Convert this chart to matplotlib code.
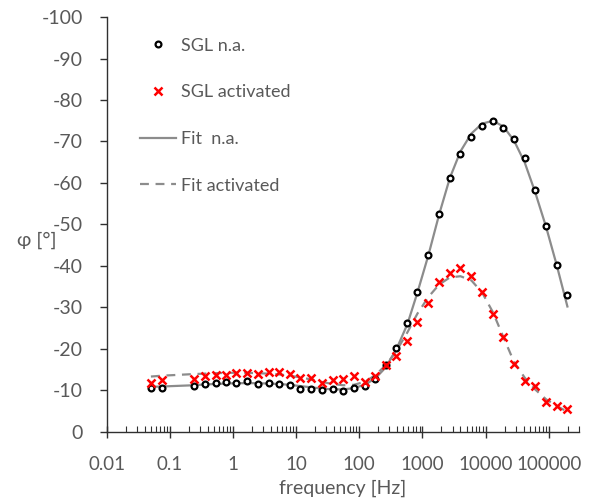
import matplotlib
matplotlib.use("Agg")
import matplotlib.pyplot as plt
from matplotlib.ticker import LogLocator, FuncFormatter, MultipleLocator

plt.rcParams['font.family'] = ['Lato', 'DejaVu Sans']
plt.rcParams['axes.unicode_minus'] = False

# measured frequencies [Hz]
freq = [0.05, 0.074, 0.24, 0.36, 0.53, 0.76, 1.13, 1.69, 2.47, 3.68, 5.44, 7.9,
        11.6, 17.2, 25.4, 37.7, 55.7, 81.6, 121, 178, 262, 388, 580, 835, 1245,
        1840, 2720, 4000, 5950, 8800, 13100, 19200, 28300, 41800, 61000, 91000,
        134000, 198000]

# phase, not activated
phi_na = [-10.55, -10.6, -10.95, -11.5, -11.75, -11.9, -11.85, -12.15, -11.6, -11.85,
          -11.6, -11.2, -10.3, -10.25, -10.1, -10.25, -9.8, -10.6, -10.9, -12.8,
          -16.0, -20.2, -26.1, -33.8, -42.6, -52.6, -61.2, -67.0, -71.2, -73.7,
          -74.9, -73.2, -70.5, -65.9, -58.4, -49.6, -40.2, -32.9]

# phase, activated
phi_act = [-11.75, -12.4, -12.8, -13.4, -13.75, -13.75, -14.15, -14.15, -14.0, -14.3,
           -14.3, -13.9, -13.0, -12.9, -11.7, -12.5, -12.75, -13.45, -11.9, -13.5,
           -16.2, -18.2, -21.8, -26.5, -31.0, -36.2, -38.2, -39.4, -37.5, -33.8,
           -28.5, -22.9, -16.3, -12.3, -10.9, -7.1, -6.2, -5.4]

# fitted curves, read at the same frequencies
fit_na = [-10.8, -10.9, -11.2, -11.4, -11.5, -11.6, -11.7, -11.7, -11.7, -11.6,
          -11.5, -11.3, -11.0, -10.7, -10.4, -10.2, -10.2, -10.5, -11.3, -12.8,
          -15.5, -19.9, -26.0, -33.6, -42.6, -52.4, -61.2, -67.6, -71.9, -74.3,
          -75.0, -73.6, -70.2, -64.9, -57.8, -49.4, -40.2, -30.2]

fit_act = [-13.3, -13.5, -13.9, -14.0, -14.1, -14.2, -14.2, -14.2, -14.1, -14.0,
           -13.8, -13.5, -13.1, -12.6, -12.0, -11.5, -11.2, -11.3, -12.0, -13.6,
           -16.0, -19.5, -24.0, -28.5, -32.5, -35.5, -37.2, -37.5, -36.5, -33.6,
           -28.8, -22.8, -16.8, -13.0, -10.2, -7.8, -6.2, -4.8]

fig = plt.figure(figsize=(5.9, 5.04), dpi=100)
ax = fig.add_axes([0.181, 0.1435, 0.80, 0.8225])

gray = '#8c8c8c'
l3, = ax.plot(freq, fit_na, '-', color=gray, lw=1.6, label='Fit  n.a.', zorder=2)
l4, = ax.plot(freq, fit_act, '--', color=gray, lw=1.6, dashes=(4, 3),
              label='Fit activated', zorder=2)
l1, = ax.plot(freq, phi_na, 'o', ms=4.2, mfc='white', mec='black', mew=1.6,
              label='SGL n.a.', zorder=3)
l2, = ax.plot(freq, phi_act, 'x', ms=5.5, color='red', mew=1.8,
              label='SGL activated', zorder=3)

ax.set_xscale('log')
ax.set_xlim(0.01, 300000)
ax.set_ylim(0, -100)
ax.yaxis.set_major_locator(MultipleLocator(10))
ax.xaxis.set_major_locator(LogLocator(base=10, numticks=20))
ax.xaxis.set_minor_locator(LogLocator(base=10, subs=range(2, 10), numticks=20))
ax.xaxis.set_major_formatter(FuncFormatter(lambda v, _: f'{v:g}'))

for s in ['top', 'right']:
    ax.spines[s].set_visible(False)
for s in ['left', 'bottom']:
    ax.spines[s].set_color('#303030')
    ax.spines[s].set_linewidth(1.0)

ax.tick_params(axis='y', direction='out', length=5, width=1, color='#303030',
               labelsize=14, labelcolor='#595959', pad=12)
ax.tick_params(axis='x', which='major', direction='inout', length=9, width=1,
               color='#303030', labelsize=13.5, labelcolor='#595959', pad=13)
ax.tick_params(axis='x', which='minor', direction='in', length=4, width=0.8,
               color='#303030')

ax.set_xlabel('frequency [Hz]', fontsize=14, color='#595959', labelpad=5)
ax.set_ylabel('φ [°]', fontsize=14, color='#595959', rotation=0)
ax.yaxis.set_label_coords(-0.148, 0.44)

ax.legend(handles=[l1, l2, l3, l4], loc='upper left', bbox_to_anchor=(0.035, 0.99),
          frameon=False, fontsize=13, labelcolor='#595959', labelspacing=1.7,
          handlelength=2.0, handletextpad=0.3)

fig.savefig('out.png', dpi=100)
